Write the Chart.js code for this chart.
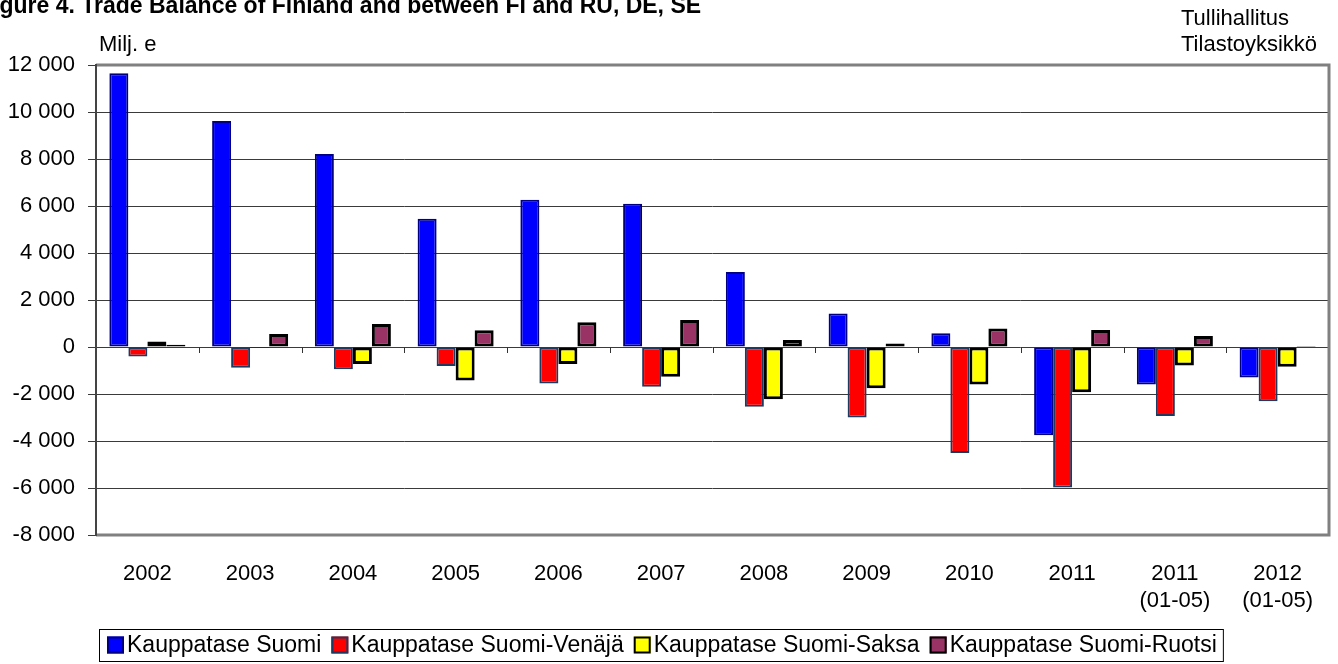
<!DOCTYPE html>
<html>
<head>
<meta charset="utf-8">
<script src="https://cdn.jsdelivr.net/npm/chart.js@4.4.1/dist/chart.umd.min.js"></script>
<style>
  html, body { margin: 0; padding: 0; background: #fff; }
  #wrap { width: 1338px; height: 664px; }
</style>
</head>
<body>
<div id="wrap"><canvas id="chart"></canvas></div>
<script>
// categories and series (Milj. e)
const years = ["2002", "2003", "2004", "2005", "2006", "2007", "2008", "2009", "2010", "2011",
  ["2011", "(01-05)"], ["2012", "(01-05)"]];
const suomi = [11650, 9620, 8210, 5460, 6270, 6100, 3190, 1430, 580, -3760, -1600, -1300];
const venaja = [-400, -880, -950, -810, -1550, -1690, -2540, -3000, -4510, -5980, -2940, -2310];
const saksa = [230, -40, -720, -1430, -720, -1270, -2220, -1750, -1600, -1930, -790, -840];
const ruotsi = [100, 550, 980, 710, 1050, 1150, 300, 150, 790, 720, 470, 40];
const seriesNames = ["Kauppatase Suomi", "Kauppatase Suomi-Venäjä", "Kauppatase Suomi-Saksa", "Kauppatase Suomi-Ruotsi"];
const yTicks = [12000, 10000, 8000, 6000, 4000, 2000, 0, -2000, -4000, -6000, -8000];

const FONT = "'Liberation Sans', Arial, sans-serif";

// thousands separated by a space, like "12 000"
function fmt(v) {
  const s = String(Math.abs(v)).replace(/\B(?=(\d{3})+(?!\d))/g, " ");
  return (v < 0 ? "-" : "") + s;
}

// texts around the plot: title, unit, source
const textPlugin = {
  id: "texts",
  afterDraw(chart) {
    const ctx = chart.ctx;
    ctx.save();
    ctx.fillStyle = "#000";
    ctx.textBaseline = "alphabetic";
    ctx.textAlign = "left";
    ctx.font = "bold 23px " + FONT;
    ctx.fillText("Figure 4. Trade Balance of Finland and between FI and RU, DE, SE", -21, 13);
    ctx.font = "22px " + FONT;
    ctx.fillText("Milj. e", 99, 51);
    ctx.fillText("Tullihallitus", 1181, 25);
    ctx.fillText("Tilastoyksikkö", 1181, 51);
    ctx.restore();
  }
};

// plot frame and the small ticks on the zero line
const framePlugin = {
  id: "frame",
  afterDatasetsDraw(chart) {
    const { ctx, chartArea: a, scales } = chart;
    const x = scales.x, y = scales.y;
    const y0 = y.getPixelForValue(0);
    ctx.save();
    ctx.strokeStyle = "#333";
    ctx.lineWidth = 1;
    const step = x.getPixelForValue(1) - x.getPixelForValue(0);
    for (let i = 1; i <= years.length; i++) {
      const px = Math.round(x.getPixelForValue(i) - step / 2) + 0.5;
      ctx.beginPath();
      ctx.moveTo(px, y0);
      ctx.lineTo(px, y0 + 6);
      ctx.stroke();
    }
    ctx.strokeStyle = "#808080";
    ctx.lineWidth = 3;
    ctx.beginPath();
    ctx.moveTo(a.left, a.top);
    ctx.lineTo(a.right, a.top);
    ctx.lineTo(a.right, a.bottom);
    ctx.lineTo(a.left, a.bottom);
    ctx.stroke();
    ctx.strokeStyle = "#444";
    ctx.lineWidth = 2;
    ctx.beginPath();
    ctx.moveTo(a.left, a.top - 1);
    ctx.lineTo(a.left, a.bottom + 1);
    ctx.stroke();
    ctx.restore();
  }
};

// boxed legend under the axis
const legendPlugin = {
  id: "boxLegend",
  afterDraw(chart) {
    const ctx = chart.ctx;
    const cy = 645;
    let px = 107;
    ctx.save();
    ctx.font = "23px " + FONT;
    ctx.textBaseline = "middle";
    ctx.textAlign = "left";
    chart.data.datasets.forEach((ds) => {
      ctx.fillStyle = ds.backgroundColor;
      ctx.fillRect(px, cy - 8.5, 17, 17);
      ctx.strokeStyle = ds.borderColor;
      ctx.lineWidth = 2;
      ctx.strokeRect(px + 1, cy - 7.5, 15, 15);
      ctx.fillStyle = "#000";
      ctx.fillText(ds.label, px + 20, cy + 1);
      px += 20 + ctx.measureText(ds.label).width + 10;
    });
    ctx.strokeStyle = "#000";
    ctx.lineWidth = 1;
    ctx.strokeRect(99.5, 629.5, px - 103, 32);
    ctx.restore();
  }
};

new Chart(document.getElementById("chart"), {
  type: "bar",
  data: {
    labels: years,
    datasets: [
      { label: seriesNames[0], data: suomi, backgroundColor: "#0000FF", borderColor: "#000080", borderWidth: 2 },
      { label: seriesNames[1], data: venaja, backgroundColor: "#FF0000", borderColor: "#1F3A60", borderWidth: 2 },
      { label: seriesNames[2], data: saksa, backgroundColor: "#FFFF00", borderColor: "#000000", borderWidth: 3 },
      { label: seriesNames[3], data: ruotsi, backgroundColor: "#993366", borderColor: "#000000", borderWidth: 3 },
    ],
  },
  options: {
    responsive: true,
    maintainAspectRatio: false,
    animation: false,
    layout: { padding: { top: 65, right: 9, left: 0, bottom: 0 } },
    datasets: {
      bar: { barPercentage: 1.0, categoryPercentage: 0.74, borderSkipped: false },
    },
    plugins: {
      legend: { display: false },
      title: { display: false },
      tooltip: { enabled: false },
    },
    scales: {
      x: {
        grid: { display: false },
        border: { display: false },
        ticks: {
          color: "#000",
          font: { family: FONT, size: 22 },
          padding: 18,
          maxRotation: 0,
          autoSkip: false,
        },
        afterFit(scale) { scale.height = 129; },
      },
      y: {
        min: -8000,
        max: 12000,
        afterBuildTicks(scale) { scale.ticks = yTicks.map((v) => ({ value: v })); },
        grid: { color: "#3a3a3a", lineWidth: 1, tickLength: 8, drawTicks: true },
        border: { display: false },
        ticks: {
          color: "#000",
          font: { family: FONT, size: 22 },
          padding: 13,
          callback: (v) => fmt(v),
        },
        afterFit(scale) { scale.width = 96; },
      },
    },
  },
  plugins: [textPlugin, framePlugin, legendPlugin],
});
</script>
</body>
</html>
